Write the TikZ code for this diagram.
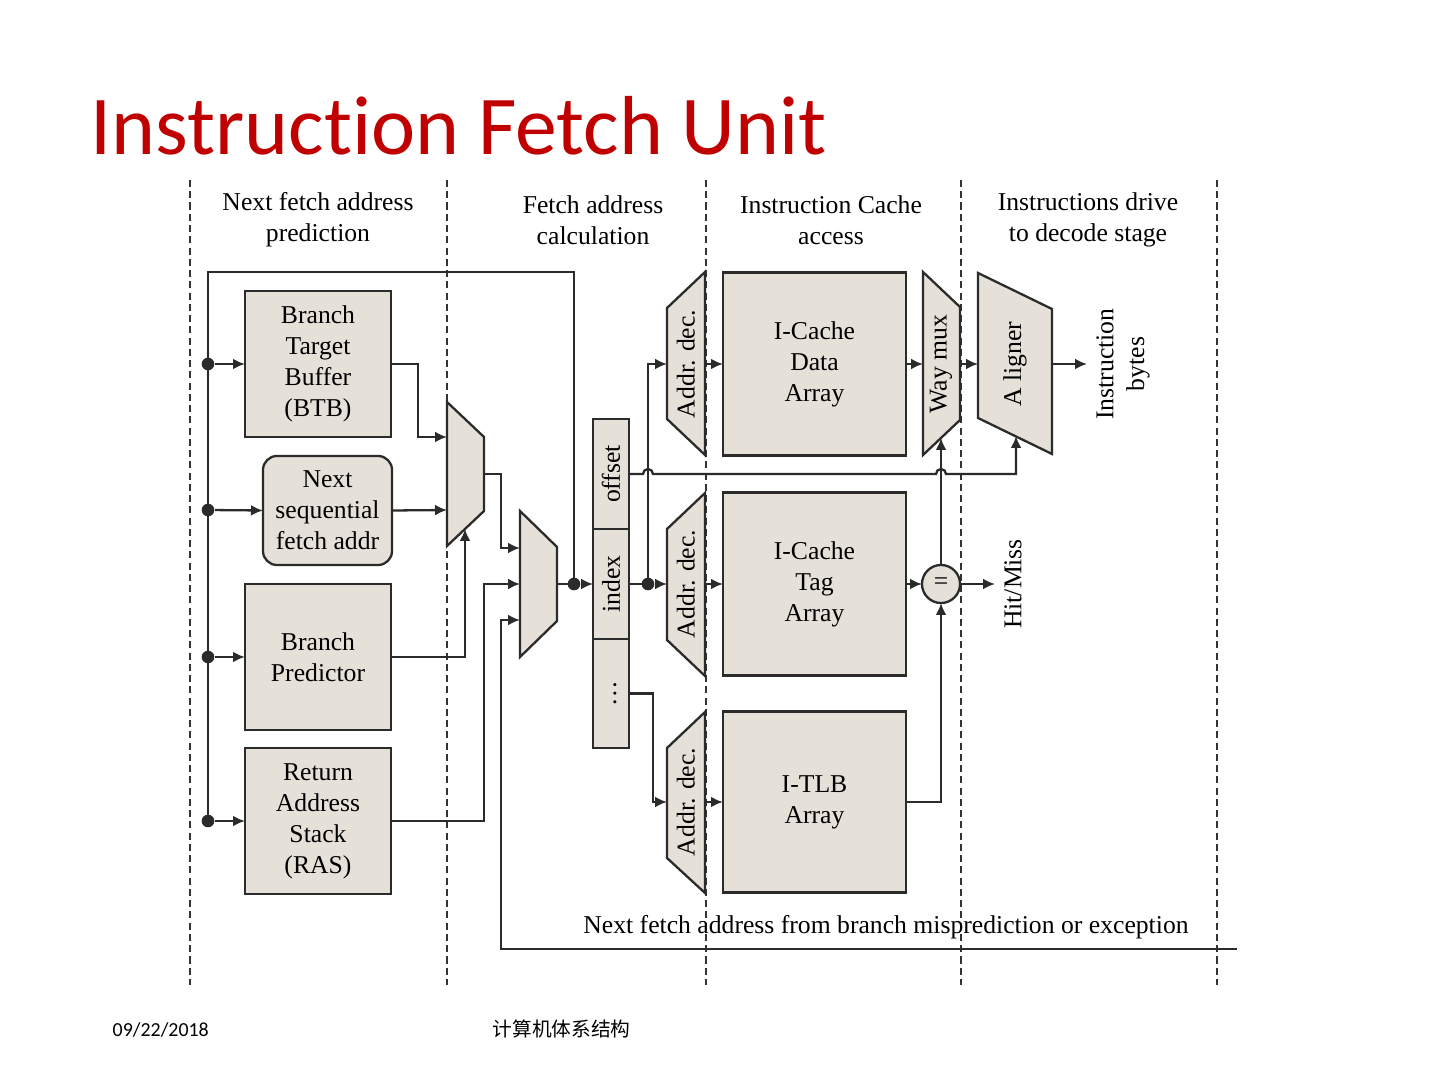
\documentclass[tikz,border=0pt]{standalone}
\usepackage{fontspec}
\setmainfont{Liberation Serif}
\newfontfamily\slidefont[Ligatures=NoCommon]{Carlito}
\newfontfamily\cjkfont{Noto Sans CJK SC}
\usetikzlibrary{arrows.meta}
\definecolor{boxfill}{HTML}{E5E0D8}
\definecolor{wirec}  {HTML}{2B2B2B}
\definecolor{lanec}  {HTML}{333333}
\definecolor{titlec} {HTML}{C00000}
\newcommand\diagfont{\fontsize{7.3}{8.8}\selectfont}

\begin{document}
\begin{tikzpicture}[
  x=0.01cm, y=-0.01cm,
  % one unit is one pixel of the 1440x1080 slide
  blk/.style={draw=wirec, fill=boxfill, line width=0.65pt, inner sep=0pt, outer sep=0pt,
              align=center, font=\diagfont},
  unit/.style={blk, minimum width=1.46cm, minimum height=1.46cm},
  cache/.style={blk, minimum width=1.83cm, minimum height=1.83cm},
  field/.style={blk, minimum width=0.36cm, minimum height=1.10cm},
  vtext/.style={rotate=90, font=\diagfont, inner sep=0pt, align=center},
  head/.style={font=\diagfont, align=center, inner sep=0pt},
  ln/.style={draw=wirec, line width=0.65pt},
  arr/.style={ln, -{Latex[length=3.4pt,width=3.1pt]}},
  joint/.style={circle, fill=wirec, minimum size=3.6pt, inner sep=0pt},
  lane/.style={draw=lanec, line width=0.6pt, dash pattern=on 2pt off 1.2pt}
]
\fill[white] (0,0) rectangle (1440,1080);
\useasboundingbox (0,0) rectangle (1440,1080);

% slide title and footer
\node[anchor=base west, inner sep=0pt, text=titlec,
      font=\slidefont\fontsize{23.8}{28}\selectfont] (title) at (90,155) {Instruc\kern0pt tion Fetch Unit};
\node[anchor=base west, inner sep=0pt, font=\slidefont\fontsize{5.66}{7}\selectfont] (date) at (112,1036) {09/22/2018};
\node[anchor=base west, inner sep=0pt, font=\cjkfont\fontsize{5.6}{7}\selectfont] (course) at (492,1036) {计算机体系结构};

% pipeline stage lanes
\foreach \lx in {190,447,706,961,1217}
  \draw[lane] (\lx,180) -- (\lx,985);

\node[head] (hpred)  at (318,220)  {Next fetch address\\prediction};
\node[head] (hcalc)  at (593,220)  {Fetch address\\calculation};
\node[head] (hcache) at (831,220)  {Instruction Cache\\access};
\node[head] (hdrive) at (1088,220) {Instructions drive\\to decode stage};

% predictors
\node[unit] (btb) at (318,364) {Branch\\Target\\Buffer\\(BTB)};
\node[blk, rounded corners=4pt, minimum width=1.29cm, minimum height=1.09cm] (nsf) at (327.5,510.5) {Next\\sequential\\fetch addr};
\node[unit] (bp)  at (318,657) {Branch\\Predictor};
\node[unit] (ras) at (318,821) {Return\\Address\\Stack\\(RAS)};

% muxes
\draw[blk] (447,402) -- (484,437) -- (484,511) -- (447,546) -- cycle;
\draw[blk] (520,511) -- (557,547) -- (557,621) -- (520,657) -- cycle;
\coordinate (m1a) at (447,437);
\coordinate (m1b) at (447,510);
\coordinate (m1s) at (465,529);
\coordinate (m1o) at (484,474);
\coordinate (m2a) at (520,548);
\coordinate (m2b) at (520,584);
\coordinate (m2c) at (520,620);
\coordinate (m2o) at (557,584);

% fetch address fields
\node[field] (off) at (611,474) {};
\node[field] (idx) at (611,584) {};
\node[field, minimum height=1.09cm] (dts) at (611,693.5) {};
\node[vtext] (offt) at (611,474) {offset};
\node[vtext] (idxt) at (611,584) {index};
\node[vtext] (dtst) at (615,693.5) {\dots};

% address decoders
\draw[blk] (667,308) -- (705,272) -- (705,455) -- (667,419) -- cycle;
\draw[blk] (667,529) -- (705,493) -- (705,676) -- (667,640) -- cycle;
\draw[blk] (667,748) -- (705,712) -- (705,893) -- (667,858) -- cycle;
\node[vtext] (dec1) at (686,364) {Addr. dec.};
\node[vtext] (dec2) at (686,584) {Addr. dec.};
\node[vtext] (dec3) at (686,802) {Addr. dec.};
\coordinate (d1in) at (667,364); \coordinate (d1out) at (705,364);
\coordinate (d2in) at (667,584); \coordinate (d2out) at (705,584);
\coordinate (d3in) at (667,802); \coordinate (d3out) at (705,802);

% arrays
\node[cache] (dat) at (814.5,364) {I-Cache\\Data\\Array};
\node[cache] (tag) at (814.5,584) {I-Cache\\Tag\\Array};
\node[cache, minimum height=1.81cm] (tlb) at (814.5,802) {I-TLB\\Array};

% way mux, aligner, tag compare
\draw[blk] (923,272) -- (960,307) -- (960,420) -- (923,455) -- cycle;
\node[vtext] (wmux) at (941,364) {Way mux};
\coordinate (wmin)  at (923,364);
\coordinate (wmout) at (960,364);
\coordinate (wmsel) at (941,438);
\draw[blk] (978,273) -- (1052,309) -- (1052,454) -- (978,418) -- cycle;
\node[vtext] (algn) at (1015,364) {A ligner};
\coordinate (alin)  at (978,364);
\coordinate (alout) at (1052,364);
\coordinate (alsel) at (1016,436);
\node[blk, circle, minimum size=0.38cm] (cmp) at (941,584) {=};

\coordinate (ibyte) at (1087,364);
\node[vtext] (ibt) at (1123,364) {Instruction\\bytes};
\coordinate (hm) at (995,584);
\node[vtext] (hmt) at (1013,584) {Hit/Miss};

% feedback from the back end
\coordinate (misp) at (1237,949);
\node[head] (mispt) at (886,927) {Next fetch address from branch misprediction or exception};

% joints
\node[joint] (dbtb) at (208,364) {};
\node[joint] (dnsf) at (208,510) {};
\node[joint] (dbp)  at (208,657) {};
\node[joint] (dras) at (208,821) {};
\node[joint] (j1)   at (574,584) {};
\node[joint] (j2)   at (648,584) {};

% wiring
\draw[ln] (j1.center) |- (208,272) -- (dras.center);
\draw[arr] (dbtb) -- (btb.west);
\draw[arr] (dnsf) -- (nsf.west);
\draw[arr] (dbp)  -- (bp.west);
\draw[arr] (dras) -- (ras.west);

\draw[arr] (btb.east) -- ++(27,0) |- (m1a);
\draw[arr] (nsf.east) -- (m1b);
\draw[arr] (bp.east) -| (m1s);
\draw[arr] (m1o) -- ++(17,0) |- (m2a);
\draw[arr] (ras.east) -- ++(93,0) |- (m2b);
\draw[arr] (misp) -| ++(-736,-329) -- (m2c);
\draw[ln] (m2o) -- (j1.center);
\draw[arr] (j1) -- (idx.west);

\draw[ln] (idx.east) -- (j2.center);
\draw[arr] (j2) -- (d2in);
\draw[arr] (j2.center) |- (d1in);
\draw[arr] (dts.east) -- ++(24,0) |- (d3in);
\draw[arr] (off.east) -- (643,474) arc[start angle=180, end angle=0, radius=1.42pt]
  -- (936,474) arc[start angle=180, end angle=0, radius=1.42pt] -- (1016,474) -- (alsel);

\draw[arr] (d1out) -- (dat.west);
\draw[arr] (d2out) -- (tag.west);
\draw[arr] (d3out) -- (tlb.west);
\draw[arr] (dat.east) -- (wmin);
\draw[arr] (wmout) -- (alin);
\draw[arr] (alout) -- (ibyte);
\draw[arr] (tag.east) -- (cmp.west);
\draw[arr] (cmp.east) -- (hm);
\draw[arr] (cmp.north) -- (wmsel);
\draw[arr] (tlb.east) -| (cmp.south);

\end{tikzpicture}
\end{document}
